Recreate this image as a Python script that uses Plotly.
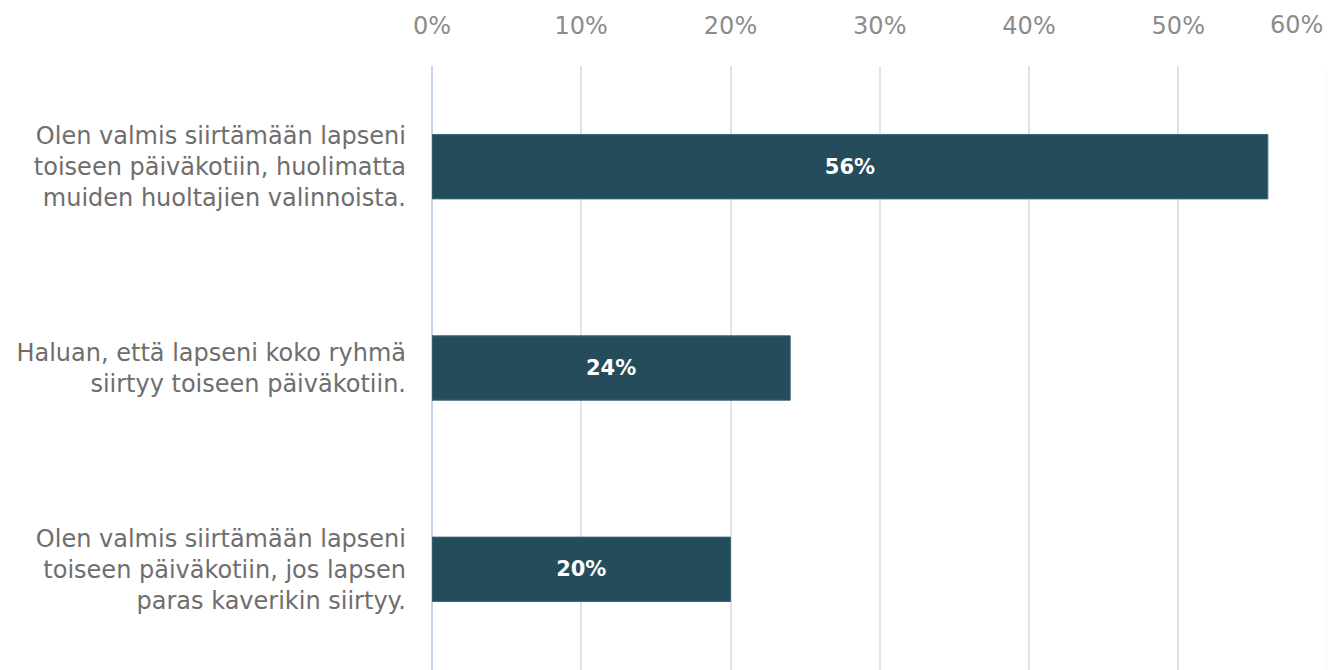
"""
Horizontal bar chart: guardians' willingness to move child to another daycare
"""
import plotly.graph_objects as go

categories = [
    "Olen valmis siirtämään lapseni<br>toiseen päiväkotiin, huolimatta<br>muiden huoltajien valinnoista.",
    "Haluan, että lapseni koko ryhmä<br>siirtyy toiseen päiväkotiin.",
    "Olen valmis siirtämään lapseni<br>toiseen päiväkotiin, jos lapsen<br>paras kaverikin siirtyy.",
]
shares = [0.56, 0.24, 0.20]
x_ticks = [0, 0.1, 0.2, 0.3, 0.4, 0.5, 0.6]
x_ticktext = ["0%", "10%", "20%", "30%", "40%", "50%", ""]  # last one drawn as annotation

bar_color = '#244C5A'
grid_color = '#E3E3E3'
font_family = 'DejaVu Sans, Liberation Sans, Arial, sans-serif'

fig = go.Figure(go.Bar(
    x=shares,
    y=categories,
    orientation='h',
    marker=dict(color=bar_color, line=dict(color='#3C6A78', width=1)),
    text=[f"{v:.0%}" for v in shares],
    textposition='inside',
    insidetextanchor='middle',
    textfont=dict(family=font_family, size=21, color='white', weight='bold'),
    hovertemplate='%{x:.0%}<extra></extra>',
))

# the page body adds an 8px offset, so the figure is sized to fit the window without scrollbars
fig.update_layout(
    width=1327, height=662,
    margin=dict(l=424, r=3, t=58, b=0),
    paper_bgcolor='white', plot_bgcolor='white',
    bargap=0.68,
    showlegend=False,
    font=dict(family=font_family),
)

fig.update_xaxes(
    side='top',
    range=[0, 0.603],
    tickvals=x_ticks,
    ticktext=x_ticktext,
    automargin=False,
    showgrid=True, gridcolor=grid_color, gridwidth=1.5,
    zeroline=True, zerolinecolor='#C9D5EA', zerolinewidth=2,
    showline=False,
    ticks='',
    ticklabelstandoff=26,
    tickfont=dict(size=24, color='#8C8C8C'),
)

fig.update_yaxes(
    autorange='reversed',
    automargin=False,
    showgrid=False,
    showline=False,
    ticks='',
    ticklabelstandoff=25,
    tickfont=dict(size=24, color='#6E6E6E'),
)

# last gridline and tick label, pulled inside the figure like in the original
fig.add_shape(
    type='line', xref='x', yref='paper',
    x0=x_ticks[-1], x1=x_ticks[-1], y0=0, y1=1,
    line=dict(color=grid_color, width=1.5),
    layer='below',
)
fig.add_annotation(
    x=x_ticks[-1], xref='x', xanchor='right', xshift=-3,
    y=1, yref='paper', yanchor='middle', yshift=41,
    text="60%", showarrow=False,
    font=dict(family=font_family, size=24, color='#8C8C8C'),
)

fig.write_html("out.html")
